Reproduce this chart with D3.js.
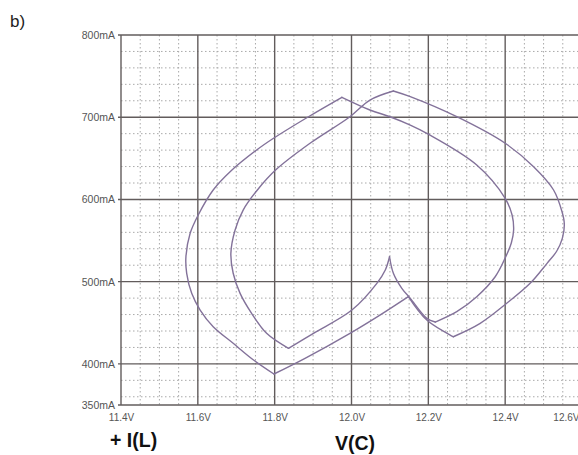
<!DOCTYPE html>
<html>
<head>
<meta charset="utf-8">
<script src="https://cdn.jsdelivr.net/npm/d3@7"></script>
<style>
  body { margin: 0; background: #fff; }
  svg { display: block; }
  .tick text { font-family: "Liberation Sans", Arial, sans-serif; fill: #555; }
</style>
</head>
<body>
<svg width="578" height="455"></svg>
<script>
// trajectory V(C) in volts / I(L) in mA (closed loop)
var vC = [
  11.975, 11.888, 11.797, 11.753, 11.684, 11.640, 11.601, 11.580, 11.569, 11.571,
  11.584, 11.606, 11.640, 11.692, 11.745, 11.798,
  11.879, 11.996, 12.074, 12.148,
  12.196, 12.265,
  12.335, 12.404, 12.465, 12.509, 12.534, 12.549, 12.554, 12.548, 12.526, 12.474, 12.400,
  12.274, 12.153, 12.109,
  12.048, 11.996, 11.892, 11.803, 11.755, 11.718, 11.697, 11.686, 11.692, 11.710,
  11.740, 11.779, 11.836,
  11.901, 12.001, 12.066, 12.088, 12.099,
  12.109, 12.131, 12.153, 12.196, 12.218,
  12.274, 12.326, 12.374, 12.400, 12.416, 12.422, 12.418, 12.400, 12.326, 12.196,
  12.153, 12.100, 12.048, 11.975
];
var iL = [
  724.2, 700.6, 674.4, 660.1, 633.7, 611.5, 581.1, 558.8, 530.3, 510.2,
  485.8, 465.5, 445.2, 425.0, 404.7, 387.7,
  406.8, 437.2, 459.4, 481.9,
  453.4, 433.0,
  449.3, 473.7, 498.0, 522.3, 537.0, 553.0, 570.0, 585.0, 611.5, 639.8, 668.3,
  700.6, 725.0, 731.9,
  720.9, 700.6, 668.3, 636.0, 611.5, 587.1, 562.8, 534.5, 510.2, 485.8,
  461.5, 437.2, 418.9,
  437.2, 465.5, 498.0, 514.2, 530.3,
  510.2, 491.9, 479.7, 455.4, 450.9,
  463.5, 481.7, 506.0, 528.8, 547.0, 562.8, 581.1, 601.4, 641.9, 680.4,
  690.5, 700.6, 708.8, 724.2
];
// sharp corners of the trajectory (peaks, V's, kink, cusp)
var corners = [0, 15, 19, 21, 35, 48, 53, 58, 72];

var xTicks = [11.4, 11.6, 11.8, 12.0, 12.2, 12.4, 12.6];
var yTicks = [350, 400, 500, 600, 700, 800];
var xMinor = d3.range(1, 24).map(function(k) { return 11.4 + k * 0.05; })
  .filter(function(v) { return Math.abs(Math.round(v * 5) - v * 5) > 1e-6; });
var yMinor = d3.range(360, 800, 20).filter(function(v) { return v % 100 !== 0; });

var margin = { top: 35, left: 121 };
var width = 461, height = 370;

var svg = d3.select('svg');

var x = d3.scaleLinear().domain([11.4, 12.6]).range([0, width]);
var y = d3.scaleLinear().domain([350, 800]).range([height, 0]);

var g = svg.append('g')
    .attr('transform', 'translate(' + margin.left + ',' + margin.top + ')');

// minor dotted grid
g.append('g').selectAll('line')
    .data(xMinor)
  .enter().append('line')
    .attr('x1', function(d) { return x(d); })
    .attr('x2', function(d) { return x(d); })
    .attr('y1', 0).attr('y2', height)
    .attr('stroke', '#a9a9a9')
    .attr('stroke-dasharray', '1.5,2.5');

g.append('g').selectAll('line')
    .data(yMinor)
  .enter().append('line')
    .attr('y1', function(d) { return y(d); })
    .attr('y2', function(d) { return y(d); })
    .attr('x1', 0).attr('x2', width)
    .attr('stroke', '#a9a9a9')
    .attr('stroke-dasharray', '1.5,2.5');

// major grid
g.append('g').selectAll('line')
    .data(xTicks)
  .enter().append('line')
    .attr('x1', function(d) { return x(d); })
    .attr('x2', function(d) { return x(d); })
    .attr('y1', 0).attr('y2', height)
    .attr('stroke', '#625c5c')
    .attr('stroke-width', 1.4);

g.append('g').selectAll('line')
    .data(yTicks)
  .enter().append('line')
    .attr('y1', function(d) { return y(d); })
    .attr('y2', function(d) { return y(d); })
    .attr('x1', -3).attr('x2', width)
    .attr('stroke', '#625c5c')
    .attr('stroke-width', 1.4);

// axes (labels only)
var xAxis = d3.axisBottom(x)
    .tickValues(xTicks)
    .tickSize(0)
    .tickPadding(9)
    .tickFormat(function(d) { return d3.format('.1f')(d) + 'V'; });

var yAxis = d3.axisLeft(y)
    .tickValues(yTicks)
    .tickSize(0)
    .tickPadding(4)
    .tickFormat(function(d) { return d + 'mA'; });

var gx = g.append('g')
    .attr('transform', 'translate(0,' + height + ')')
    .call(xAxis);
gx.select('.domain').remove();
gx.selectAll('text').style('font-size', '10px');
// last label is squeezed inside the picture
gx.selectAll('.tick').filter(function(d) { return d === 12.6; })
  .select('text')
    .attr('text-anchor', 'end')
    .attr('dx', '-3');

var gy = g.append('g').call(yAxis);
gy.select('.domain').remove();
gy.selectAll('text').style('font-size', '10.5px').attr('dx', '-2');

// the curve, smooth between corners
var pts = d3.zip(vC, iL);
var line = d3.line()
    .curve(d3.curveCatmullRom.alpha(0.5))
    .x(function(d) { return x(d[0]); })
    .y(function(d) { return y(d[1]); });

var pieces = d3.pairs(corners).map(function(p) { return pts.slice(p[0], p[1] + 1); });

g.append('g').selectAll('path')
    .data(pieces)
  .enter().append('path')
    .attr('fill', 'none')
    .attr('stroke', '#83729a')
    .attr('stroke-width', 1.4)
    .attr('stroke-linecap', 'round')
    .attr('d', line);

// labels
svg.append('text')
    .attr('x', 10).attr('y', 27)
    .style('font-family', '"Liberation Sans", Arial, sans-serif')
    .style('font-size', '17px')
    .style('fill', '#222')
    .text('b)');

svg.append('text')
    .attr('x', 110).attr('y', 447)
    .style('font-family', '"Liberation Sans", Arial, sans-serif')
    .style('font-size', '19.5px')
    .style('font-weight', 'bold')
    .style('fill', '#111')
    .text('+ I(L)');

svg.append('text')
    .attr('x', 335).attr('y', 450)
    .style('font-family', '"Liberation Sans", Arial, sans-serif')
    .style('font-size', '19.5px')
    .style('font-weight', 'bold')
    .style('fill', '#111')
    .text('V(C)');
</script>
</body>
</html>
